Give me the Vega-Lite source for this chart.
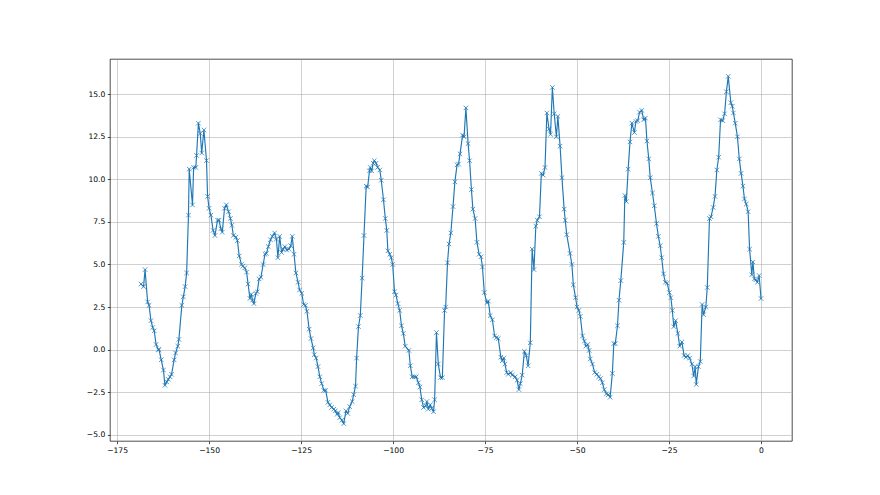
{
  "$schema": "https://vega.github.io/schema/vega-lite/v6.json",
  "width": 682,
  "height": 382,
  "autosize": {"type": "none"},
  "padding": {"left": 110, "top": 59, "right": 88, "bottom": 54},
  "background": "white",
  "config": {
    "view": {"stroke": "black", "strokeWidth": 0.7},
    "axis": {
      "grid": true, "gridColor": "#b0b0b0", "gridWidth": 0.6, "domain": false,
      "tickColor": "black", "tickSize": 2.7, "tickWidth": 0.7,
      "labelFont": "DejaVu Sans", "labelFontSize": 7.6, "labelColor": "black", "labelPadding": 2.5,
      "title": null
    }
  },
  "data": {"values": [
    {"x": -168.5, "y": 3.85}, {"x": -167.8, "y": 3.7}, {"x": -167.4, "y": 4.7}, {"x": -166.7, "y": 2.8},
    {"x": -166.3, "y": 2.6}, {"x": -165.8, "y": 1.7}, {"x": -165.3, "y": 1.3}, {"x": -164.9, "y": 1.1},
    {"x": -164.4, "y": 0.3}, {"x": -163.8, "y": 0.0}, {"x": -163.6, "y": 0.0}, {"x": -163.0, "y": -0.6},
    {"x": -162.4, "y": -1.2},
    {"x": -162.0, "y": -2.1}, {"x": -161.5, "y": -1.9}, {"x": -161.1, "y": -1.75}, {"x": -160.6, "y": -1.6},
    {"x": -160.2, "y": -1.45}, {"x": -159.5, "y": -0.6}, {"x": -159.1, "y": -0.2}, {"x": -158.5, "y": 0.2},
    {"x": -158.2, "y": 0.6}, {"x": -157.4, "y": 2.6}, {"x": -157.0, "y": 3.1}, {"x": -156.5, "y": 3.7},
    {"x": -156.1, "y": 4.5}, {"x": -155.6, "y": 7.9},
    {"x": -155.4, "y": 10.6}, {"x": -154.5, "y": 8.5}, {"x": -154.2, "y": 10.7}, {"x": -153.6, "y": 10.7},
    {"x": -153.4, "y": 11.4}, {"x": -152.9, "y": 13.3}, {"x": -152.4, "y": 12.7}, {"x": -152.0, "y": 11.55},
    {"x": -151.4, "y": 12.9}, {"x": -150.7, "y": 11.1}, {"x": -150.4, "y": 9.0}, {"x": -150.0, "y": 8.3},
    {"x": -149.5, "y": 7.9}, {"x": -148.9, "y": 7.0}, {"x": -148.4, "y": 6.7}, {"x": -147.7, "y": 7.6},
    {"x": -147.3, "y": 7.6}, {"x": -146.8, "y": 7.1}, {"x": -146.4, "y": 6.9}, {"x": -145.8, "y": 8.3},
    {"x": -145.3, "y": 8.5}, {"x": -144.7, "y": 8.1}, {"x": -144.2, "y": 7.7}, {"x": -143.8, "y": 7.3},
    {"x": -143.4, "y": 6.7}, {"x": -142.7, "y": 6.6}, {"x": -142.3, "y": 6.4}, {"x": -141.8, "y": 5.5},
    {"x": -141.2, "y": 5.0}, {"x": -140.8, "y": 4.9},
    {"x": -140.3, "y": 4.8}, {"x": -139.8, "y": 4.55}, {"x": -139.4, "y": 3.85}, {"x": -138.9, "y": 3.0},
    {"x": -138.5, "y": 3.25}, {"x": -138.2, "y": 2.9}, {"x": -137.8, "y": 2.7}, {"x": -137.3, "y": 3.3},
    {"x": -136.9, "y": 3.4}, {"x": -136.4, "y": 4.15}, {"x": -135.9, "y": 4.25}, {"x": -135.3, "y": 5.0},
    {"x": -134.8, "y": 5.6}, {"x": -134.4, "y": 5.65}, {"x": -133.9, "y": 6.05}, {"x": -133.3, "y": 6.45},
    {"x": -132.8, "y": 6.65}, {"x": -132.2, "y": 6.85}, {"x": -131.7, "y": 6.5}, {"x": -131.3, "y": 5.4},
    {"x": -130.8, "y": 6.65}, {"x": -130.3, "y": 5.7}, {"x": -129.9, "y": 5.9}, {"x": -129.4, "y": 6.05},
    {"x": -128.9, "y": 5.85}, {"x": -128.3, "y": 5.9}, {"x": -127.8, "y": 6.1}, {"x": -127.4, "y": 6.65},
    {"x": -126.9, "y": 5.6}, {"x": -126.4, "y": 4.5},
    {"x": -125.8, "y": 3.95}, {"x": -125.4, "y": 3.5}, {"x": -124.8, "y": 3.3}, {"x": -124.3, "y": 2.65},
    {"x": -123.8, "y": 2.6}, {"x": -123.4, "y": 2.25}, {"x": -122.8, "y": 1.2}, {"x": -122.3, "y": 0.65},
    {"x": -121.7, "y": 0.1}, {"x": -121.4, "y": -0.3}, {"x": -120.9, "y": -0.5}, {"x": -120.4, "y": -1.0},
    {"x": -119.9, "y": -1.6}, {"x": -119.4, "y": -2.0}, {"x": -118.8, "y": -2.4}, {"x": -118.3, "y": -2.4},
    {"x": -117.7, "y": -3.1}, {"x": -117.2, "y": -3.25}, {"x": -116.7, "y": -3.4}, {"x": -116.1, "y": -3.5},
    {"x": -115.7, "y": -3.6}, {"x": -115.2, "y": -3.8}, {"x": -114.9, "y": -3.7}, {"x": -114.5, "y": -4.0},
    {"x": -113.9, "y": -4.15}, {"x": -113.4, "y": -4.35}, {"x": -112.8, "y": -3.6}, {"x": -112.3, "y": -3.75},
    {"x": -111.8, "y": -3.35},
    {"x": -111.1, "y": -3.05}, {"x": -110.7, "y": -2.65}, {"x": -110.2, "y": -2.15}, {"x": -109.9, "y": -0.5},
    {"x": -109.4, "y": 1.35}, {"x": -108.9, "y": 2.0}, {"x": -108.4, "y": 4.2}, {"x": -107.9, "y": 6.7},
    {"x": -107.3, "y": 9.6}, {"x": -106.9, "y": 9.55}, {"x": -106.4, "y": 10.5}, {"x": -106.2, "y": 10.7},
    {"x": -105.8, "y": 10.5}, {"x": -105.4, "y": 10.95}, {"x": -105.1, "y": 11.1}, {"x": -104.6, "y": 10.95},
    {"x": -104.2, "y": 10.7}, {"x": -103.6, "y": 10.55}, {"x": -103.2, "y": 9.95}, {"x": -102.6, "y": 8.8},
    {"x": -102.1, "y": 7.7}, {"x": -101.7, "y": 7.0}, {"x": -101.4, "y": 5.8}, {"x": -100.9, "y": 5.6},
    {"x": -100.5, "y": 5.4}, {"x": -100.1, "y": 5.0}, {"x": -99.6, "y": 3.4}, {"x": -99.2, "y": 3.2},
    {"x": -98.7, "y": 2.7}, {"x": -98.2, "y": 2.3}, {"x": -97.7, "y": 1.4}, {"x": -97.2, "y": 0.95},
    {"x": -96.7, "y": 0.2},
    {"x": -95.7, "y": -0.05}, {"x": -95.3, "y": -0.95}, {"x": -94.8, "y": -1.6}, {"x": -94.2, "y": -1.6},
    {"x": -93.7, "y": -1.6}, {"x": -93.1, "y": -1.95}, {"x": -92.7, "y": -2.2}, {"x": -92.2, "y": -2.95},
    {"x": -91.7, "y": -3.4}, {"x": -91.1, "y": -3.3}, {"x": -90.8, "y": -3.05}, {"x": -90.4, "y": -3.5},
    {"x": -89.9, "y": -3.25}, {"x": -89.5, "y": -3.45}, {"x": -89.0, "y": -3.65}, {"x": -88.7, "y": -2.95},
    {"x": -88.2, "y": 1.0}, {"x": -87.7, "y": -0.85}, {"x": -87.1, "y": -1.65}, {"x": -86.6, "y": -1.65},
    {"x": -86.0, "y": 2.3}, {"x": -85.7, "y": 2.5}, {"x": -85.2, "y": 5.1}, {"x": -84.8, "y": 6.2},
    {"x": -84.3, "y": 6.85}, {"x": -83.7, "y": 8.4}, {"x": -83.2, "y": 9.85}, {"x": -82.6, "y": 10.85},
    {"x": -82.2, "y": 10.9},
    {"x": -81.8, "y": 11.5}, {"x": -81.1, "y": 12.6}, {"x": -80.7, "y": 12.5}, {"x": -80.2, "y": 14.2},
    {"x": -79.6, "y": 12.1}, {"x": -79.2, "y": 11.1}, {"x": -78.7, "y": 9.4}, {"x": -78.3, "y": 8.25},
    {"x": -77.7, "y": 7.7}, {"x": -77.2, "y": 6.3}, {"x": -76.6, "y": 5.6}, {"x": -76.1, "y": 5.45},
    {"x": -75.7, "y": 4.85}, {"x": -75.2, "y": 3.35}, {"x": -74.5, "y": 2.75}, {"x": -74.1, "y": 2.85},
    {"x": -73.6, "y": 2.0}, {"x": -73.0, "y": 1.75}, {"x": -72.4, "y": 0.8}, {"x": -71.9, "y": 0.7},
    {"x": -71.4, "y": 0.65}, {"x": -70.7, "y": -0.45}, {"x": -70.3, "y": -0.65}, {"x": -69.9, "y": -0.5},
    {"x": -69.6, "y": -0.85}, {"x": -69.1, "y": -1.35}, {"x": -68.7, "y": -1.45}, {"x": -68.0, "y": -1.35},
    {"x": -67.6, "y": -1.5},
    {"x": -66.8, "y": -1.6}, {"x": -66.3, "y": -1.8}, {"x": -65.8, "y": -2.35}, {"x": -65.4, "y": -2.0},
    {"x": -64.9, "y": -1.5}, {"x": -64.3, "y": -0.1}, {"x": -63.8, "y": -0.35}, {"x": -63.3, "y": -0.95},
    {"x": -62.7, "y": 0.4}, {"x": -62.2, "y": 5.9}, {"x": -61.7, "y": 4.7}, {"x": -61.2, "y": 7.25},
    {"x": -60.8, "y": 7.6}, {"x": -60.2, "y": 7.8}, {"x": -59.7, "y": 10.35}, {"x": -59.2, "y": 10.25},
    {"x": -58.7, "y": 10.7}, {"x": -58.2, "y": 13.9}, {"x": -57.6, "y": 12.95}, {"x": -57.2, "y": 12.65},
    {"x": -56.7, "y": 15.4}, {"x": -56.2, "y": 13.85}, {"x": -55.6, "y": 12.5}, {"x": -55.2, "y": 13.7},
    {"x": -54.6, "y": 11.95}, {"x": -54.1, "y": 10.1}, {"x": -53.5, "y": 8.25}, {"x": -53.2, "y": 7.6},
    {"x": -52.8, "y": 6.75},
    {"x": -51.9, "y": 5.65}, {"x": -51.4, "y": 5.0}, {"x": -51.0, "y": 3.8}, {"x": -50.4, "y": 3.05},
    {"x": -50.0, "y": 2.5}, {"x": -49.5, "y": 2.3}, {"x": -49.1, "y": 1.95}, {"x": -48.5, "y": 0.8},
    {"x": -48.0, "y": 0.5}, {"x": -47.6, "y": 0.2}, {"x": -47.1, "y": 0.3}, {"x": -46.7, "y": -0.05},
    {"x": -46.4, "y": -0.55}, {"x": -45.8, "y": -0.85}, {"x": -45.2, "y": -1.35}, {"x": -44.6, "y": -1.45},
    {"x": -44.1, "y": -1.6}, {"x": -43.6, "y": -1.7}, {"x": -43.1, "y": -1.95}, {"x": -42.6, "y": -2.35},
    {"x": -42.0, "y": -2.6}, {"x": -41.5, "y": -2.65}, {"x": -41.0, "y": -2.8}, {"x": -40.4, "y": -1.4},
    {"x": -40.0, "y": 0.35}, {"x": -39.6, "y": 0.35}, {"x": -39.0, "y": 1.4}, {"x": -38.6, "y": 2.9},
    {"x": -38.1, "y": 4.05},
    {"x": -37.3, "y": 6.3}, {"x": -37.0, "y": 9.05}, {"x": -36.6, "y": 8.7}, {"x": -36.1, "y": 10.6},
    {"x": -35.6, "y": 12.2}, {"x": -35.1, "y": 13.3}, {"x": -34.4, "y": 12.75}, {"x": -34.0, "y": 13.4},
    {"x": -33.5, "y": 13.45}, {"x": -33.0, "y": 13.95}, {"x": -32.4, "y": 14.05}, {"x": -31.9, "y": 13.5},
    {"x": -31.4, "y": 13.6}, {"x": -31.0, "y": 12.25}, {"x": -30.5, "y": 11.2}, {"x": -30.1, "y": 10.1},
    {"x": -29.5, "y": 9.2}, {"x": -29.0, "y": 8.45}, {"x": -28.4, "y": 7.4}, {"x": -27.9, "y": 6.65},
    {"x": -27.4, "y": 6.1}, {"x": -27.0, "y": 5.4}, {"x": -26.5, "y": 4.45}, {"x": -26.0, "y": 3.95},
    {"x": -25.5, "y": 3.9}, {"x": -24.9, "y": 3.35}, {"x": -24.5, "y": 3.05}, {"x": -24.1, "y": 2.3},
    {"x": -23.7, "y": 1.35},
    {"x": -23.2, "y": 1.7}, {"x": -22.6, "y": 0.95}, {"x": -22.1, "y": 0.2}, {"x": -21.5, "y": 0.45},
    {"x": -20.9, "y": -0.35}, {"x": -20.4, "y": -0.45}, {"x": -19.9, "y": -0.35}, {"x": -19.4, "y": -0.5},
    {"x": -18.8, "y": -0.85}, {"x": -18.3, "y": -1.55}, {"x": -17.9, "y": -1.0}, {"x": -17.6, "y": -2.05},
    {"x": -17.0, "y": -1.0}, {"x": -16.5, "y": -0.7}, {"x": -16.0, "y": 2.65}, {"x": -15.6, "y": 2.05},
    {"x": -15.0, "y": 2.5}, {"x": -14.6, "y": 3.65}, {"x": -14.0, "y": 7.7}, {"x": -13.6, "y": 7.8},
    {"x": -13.0, "y": 8.35}, {"x": -12.5, "y": 9.0}, {"x": -12.0, "y": 10.55}, {"x": -11.5, "y": 11.3},
    {"x": -11.0, "y": 13.5}, {"x": -10.4, "y": 13.45}, {"x": -9.9, "y": 13.85}, {"x": -9.4, "y": 15.15},
    {"x": -8.9, "y": 16.05},
    {"x": -8.2, "y": 14.5}, {"x": -7.8, "y": 14.3}, {"x": -7.5, "y": 13.9}, {"x": -7.0, "y": 13.3},
    {"x": -6.4, "y": 12.5}, {"x": -5.9, "y": 11.2}, {"x": -5.4, "y": 10.35}, {"x": -4.9, "y": 9.6},
    {"x": -4.5, "y": 8.85}, {"x": -4.0, "y": 8.55}, {"x": -3.5, "y": 8.1}, {"x": -3.1, "y": 5.9},
    {"x": -2.5, "y": 4.4}, {"x": -2.2, "y": 5.15}, {"x": -1.8, "y": 4.15}, {"x": -1.4, "y": 4.1},
    {"x": -1.0, "y": 3.95}, {"x": -0.5, "y": 4.35}, {"x": 0.0, "y": 3.0}
  ]},
  "encoding": {
    "x": {
      "field": "x", "type": "quantitative",
      "scale": {"domain": [-176.925, 8.425], "nice": false, "zero": false},
      "axis": {"values": [-175, -150, -125, -100, -75, -50, -25, 0], "format": "d"}
    },
    "y": {
      "field": "y", "type": "quantitative",
      "scale": {"domain": [-5.37, 17.07], "nice": false, "zero": false},
      "axis": {"values": [-5, -2.5, 0, 2.5, 5, 7.5, 10, 12.5, 15], "format": ".1f"}
    }
  },
  "layer": [
    {"mark": {"type": "line", "color": "#1f77b4", "strokeWidth": 1.15, "strokeJoin": "round", "strokeCap": "square"}},
    {"mark": {"type": "point", "shape": "M-1,-1L1,1M-1,1L1,-1", "filled": false, "color": "#1f77b4", "size": 20, "strokeWidth": 0.75, "opacity": 1}}
  ]
}
